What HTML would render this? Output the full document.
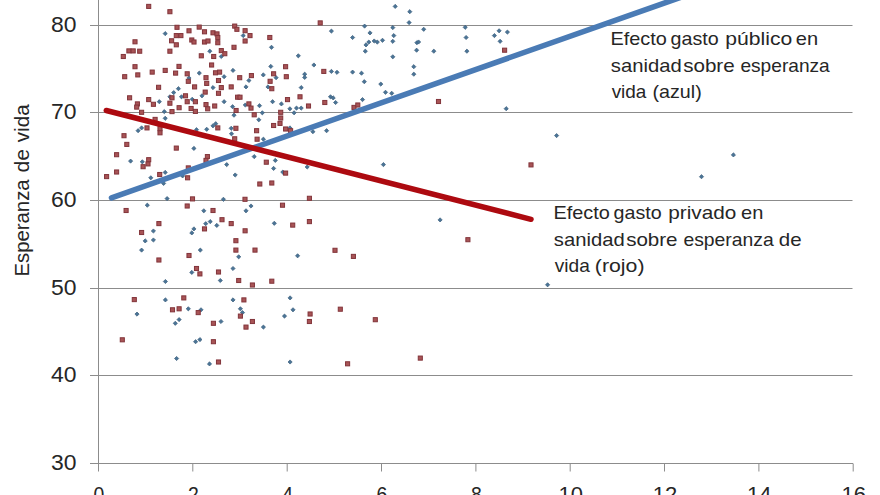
<!DOCTYPE html>
<html><head><meta charset="utf-8">
<style>
html,body{margin:0;padding:0;background:#fff;width:880px;height:495px;overflow:hidden}
svg{display:block}
text{font-family:"Liberation Sans",sans-serif}
</style></head><body>
<svg width="880" height="495" viewBox="0 0 880 495">
<rect width="880" height="495" fill="#fff"/>
<g stroke="#8c8c8c" stroke-width="1"><line x1="90" y1="25.5" x2="852.5" y2="25.5"/><line x1="90" y1="112.5" x2="852.5" y2="112.5"/><line x1="90" y1="200.5" x2="852.5" y2="200.5"/><line x1="90" y1="288.5" x2="852.5" y2="288.5"/><line x1="90" y1="375.5" x2="852.5" y2="375.5"/><line x1="90" y1="463.5" x2="853" y2="463.5"/><line x1="98.5" y1="0" x2="98.5" y2="471.5"/><line x1="192.8" y1="463.5" x2="192.8" y2="471.5"/><line x1="287.2" y1="463.5" x2="287.2" y2="471.5"/><line x1="381.5" y1="463.5" x2="381.5" y2="471.5"/><line x1="475.9" y1="463.5" x2="475.9" y2="471.5"/><line x1="570.2" y1="463.5" x2="570.2" y2="471.5"/><line x1="664.5" y1="463.5" x2="664.5" y2="471.5"/><line x1="758.9" y1="463.5" x2="758.9" y2="471.5"/><line x1="853.2" y1="463.5" x2="853.2" y2="471.5"/></g>
<g font-size="22.8" fill="#262626"><text x="76.5" y="32.3" text-anchor="end" textLength="25.5" lengthAdjust="spacingAndGlyphs">80</text><text x="76.5" y="119.3" text-anchor="end" textLength="25.5" lengthAdjust="spacingAndGlyphs">70</text><text x="76.5" y="207.3" text-anchor="end" textLength="25.5" lengthAdjust="spacingAndGlyphs">60</text><text x="76.5" y="295.3" text-anchor="end" textLength="25.5" lengthAdjust="spacingAndGlyphs">50</text><text x="76.5" y="382.3" text-anchor="end" textLength="25.5" lengthAdjust="spacingAndGlyphs">40</text><text x="76.5" y="470.3" text-anchor="end" textLength="25.5" lengthAdjust="spacingAndGlyphs">30</text><text x="93.6" y="501.5" textLength="10.8" lengthAdjust="spacingAndGlyphs">0</text><text x="187.9" y="501.5" textLength="10.8" lengthAdjust="spacingAndGlyphs">2</text><text x="282.3" y="501.5" textLength="10.8" lengthAdjust="spacingAndGlyphs">4</text><text x="376.6" y="501.5" textLength="10.8" lengthAdjust="spacingAndGlyphs">6</text><text x="471.0" y="501.5" textLength="10.8" lengthAdjust="spacingAndGlyphs">8</text><text x="558.5" y="501.5" textLength="24.5" lengthAdjust="spacingAndGlyphs">10</text><text x="652.8" y="501.5" textLength="24.5" lengthAdjust="spacingAndGlyphs">12</text><text x="747.1" y="501.5" textLength="24.5" lengthAdjust="spacingAndGlyphs">14</text><text x="841.5" y="501.5" textLength="24.5" lengthAdjust="spacingAndGlyphs">16</text></g>
<g font-size="20" fill="#262626"><text transform="translate(29.2,276.42) rotate(-90)" textLength="96.99" lengthAdjust="spacingAndGlyphs">Esperanza</text><text transform="translate(29.2,172.5) rotate(-90)" textLength="23.59" lengthAdjust="spacingAndGlyphs">de</text><text transform="translate(29.2,142.26) rotate(-90)" textLength="37.91" lengthAdjust="spacingAndGlyphs">vida</text></g>
<g fill="#4a7496" stroke="#3c5e7c" stroke-width="0.7"><path d="M165.2 31.50L167.30 33.6L165.2 35.70L163.10 33.6Z"/><path d="M209.8 49.10L211.90 51.2L209.8 53.30L207.70 51.2Z"/><path d="M243.2 33.50L245.30 35.6L243.2 37.70L241.10 35.6Z"/><path d="M271.5 45.20L273.60 47.3L271.5 49.40L269.40 47.3Z"/><path d="M221.3 54.40L223.40 56.5L221.3 58.60L219.20 56.5Z"/><path d="M298.3 53.70L300.40 55.8L298.3 57.90L296.20 55.8Z"/><path d="M270.8 64.30L272.90 66.4L270.8 68.50L268.70 66.4Z"/><path d="M313.9 62.90L316.00 65.0L313.9 67.10L311.80 65.0Z"/><path d="M395.2 4.30L397.30 6.4L395.2 8.50L393.10 6.4Z"/><path d="M409.8 9.60L411.90 11.7L409.8 13.80L407.70 11.7Z"/><path d="M409.1 20.50L411.20 22.6L409.1 24.70L407.00 22.6Z"/><path d="M364.6 24.00L366.70 26.1L364.6 28.20L362.50 26.1Z"/><path d="M392.8 25.50L394.90 27.6L392.8 29.70L390.70 27.6Z"/><path d="M423.7 27.20L425.80 29.3L423.7 31.40L421.60 29.3Z"/><path d="M331.4 29.00L333.50 31.1L331.4 33.20L329.30 31.1Z"/><path d="M370.0 30.80L372.10 32.9L370.0 35.00L367.90 32.9Z"/><path d="M352.6 35.40L354.70 37.5L352.6 39.60L350.50 37.5Z"/><path d="M393.8 33.50L395.90 35.6L393.8 37.70L391.70 35.6Z"/><path d="M368.8 40.00L370.90 42.1L368.8 44.20L366.70 42.1Z"/><path d="M366.0 42.80L368.10 44.9L366.0 47.00L363.90 44.9Z"/><path d="M374.2 38.90L376.30 41.0L374.2 43.10L372.10 41.0Z"/><path d="M377.3 40.00L379.40 42.1L377.3 44.20L375.20 42.1Z"/><path d="M382.5 38.20L384.60 40.3L382.5 42.40L380.40 40.3Z"/><path d="M392.8 39.20L394.90 41.3L392.8 43.40L390.70 41.3Z"/><path d="M416.9 40.60L419.00 42.7L416.9 44.80L414.80 42.7Z"/><path d="M418.6 39.90L420.70 42.0L418.6 44.10L416.50 42.0Z"/><path d="M365.3 49.10L367.40 51.2L365.3 53.30L363.20 51.2Z"/><path d="M416.6 48.10L418.70 50.2L416.6 52.30L414.50 50.2Z"/><path d="M433.8 49.10L435.90 51.2L433.8 53.30L431.70 51.2Z"/><path d="M392.8 54.70L394.90 56.8L392.8 58.90L390.70 56.8Z"/><path d="M413.8 64.60L415.90 66.7L413.8 68.80L411.70 66.7Z"/><path d="M465.2 25.20L467.30 27.3L465.2 29.40L463.10 27.3Z"/><path d="M466.1 35.40L468.20 37.5L466.1 39.60L464.00 37.5Z"/><path d="M466.9 49.10L469.00 51.2L466.9 53.30L464.80 51.2Z"/><path d="M494.4 33.50L496.50 35.6L494.4 37.70L492.30 35.6Z"/><path d="M499.1 28.70L501.20 30.8L499.1 32.90L497.00 30.8Z"/><path d="M507.4 30.00L509.50 32.1L507.4 34.20L505.30 32.1Z"/><path d="M500.1 39.20L502.20 41.3L500.1 43.40L498.00 41.3Z"/><path d="M189.0 75.90L191.10 78.0L189.0 80.10L186.90 78.0Z"/><path d="M199.3 71.00L201.40 73.1L199.3 75.20L197.20 73.1Z"/><path d="M178.4 86.60L180.50 88.7L178.4 90.80L176.30 88.7Z"/><path d="M173.7 90.50L175.80 92.6L173.7 94.70L171.60 92.6Z"/><path d="M181.5 94.70L183.60 96.8L181.5 98.90L179.40 96.8Z"/><path d="M169.9 94.70L172.00 96.8L169.9 98.90L167.80 96.8Z"/><path d="M159.3 99.60L161.40 101.7L159.3 103.80L157.20 101.7Z"/><path d="M192.2 97.20L194.30 99.3L192.2 101.40L190.10 99.3Z"/><path d="M202.0 93.70L204.10 95.8L202.0 97.90L199.90 95.8Z"/><path d="M213.0 85.50L215.10 87.6L213.0 89.70L210.90 87.6Z"/><path d="M164.3 109.50L166.40 111.6L164.3 113.70L162.20 111.6Z"/><path d="M165.2 116.20L167.30 118.3L165.2 120.40L163.10 118.3Z"/><path d="M141.6 125.80L143.70 127.9L141.6 130.00L139.50 127.9Z"/><path d="M138.1 128.60L140.20 130.7L138.1 132.80L136.00 130.7Z"/><path d="M196.5 127.60L198.60 129.7L196.5 131.80L194.40 129.7Z"/><path d="M206.7 127.20L208.80 129.3L206.7 131.40L204.60 129.3Z"/><path d="M213.0 123.70L215.10 125.8L213.0 127.90L210.90 125.8Z"/><path d="M233.0 68.30L235.10 70.4L233.0 72.50L230.90 70.4Z"/><path d="M224.1 74.60L226.20 76.7L224.1 78.80L222.00 76.7Z"/><path d="M248.9 78.40L251.00 80.5L248.9 82.60L246.80 80.5Z"/><path d="M263.3 72.80L265.40 74.9L263.3 77.00L261.20 74.9Z"/><path d="M276.1 75.60L278.20 77.7L276.1 79.80L274.00 77.7Z"/><path d="M304.7 72.10L306.80 74.2L304.7 76.30L302.60 74.2Z"/><path d="M304.7 75.30L306.80 77.4L304.7 79.50L302.60 77.4Z"/><path d="M246.0 84.80L248.10 86.9L246.0 89.00L243.90 86.9Z"/><path d="M268.0 84.80L270.10 86.9L268.0 89.00L265.90 86.9Z"/><path d="M301.2 85.50L303.30 87.6L301.2 89.70L299.10 87.6Z"/><path d="M224.1 99.60L226.20 101.7L224.1 103.80L222.00 101.7Z"/><path d="M232.6 104.60L234.70 106.7L232.6 108.80L230.50 106.7Z"/><path d="M245.3 102.90L247.40 105.0L245.3 107.10L243.20 105.0Z"/><path d="M259.5 103.60L261.60 105.7L259.5 107.80L257.40 105.7Z"/><path d="M272.6 99.60L274.70 101.7L272.6 103.80L270.50 101.7Z"/><path d="M281.4 101.80L283.50 103.9L281.4 106.00L279.30 103.9Z"/><path d="M289.9 106.70L292.00 108.8L289.9 110.90L287.80 108.8Z"/><path d="M296.5 106.00L298.60 108.1L296.5 110.20L294.40 108.1Z"/><path d="M301.2 106.00L303.30 108.1L301.2 110.20L299.10 108.1Z"/><path d="M294.1 110.70L296.20 112.8L294.1 114.90L292.00 112.8Z"/><path d="M262.3 110.70L264.40 112.8L262.3 114.90L260.20 112.8Z"/><path d="M234.0 113.10L236.10 115.2L234.0 117.30L231.90 115.2Z"/><path d="M258.8 117.70L260.90 119.8L258.8 121.90L256.70 119.8Z"/><path d="M215.7 121.60L217.80 123.7L215.7 125.80L213.60 123.7Z"/><path d="M231.2 126.20L233.30 128.3L231.2 130.40L229.10 128.3Z"/><path d="M231.5 131.70L233.60 133.8L231.5 135.90L229.40 133.8Z"/><path d="M289.9 125.80L292.00 127.9L289.9 130.00L287.80 127.9Z"/><path d="M312.9 129.60L315.00 131.7L312.9 133.80L310.80 131.7Z"/><path d="M326.6 128.60L328.70 130.7L326.6 132.80L324.50 130.7Z"/><path d="M331.4 69.30L333.50 71.4L331.4 73.50L329.30 71.4Z"/><path d="M337.0 70.20L339.10 72.3L337.0 74.40L334.90 72.3Z"/><path d="M352.6 70.00L354.70 72.1L352.6 74.20L350.50 72.1Z"/><path d="M361.5 71.10L363.60 73.2L361.5 75.30L359.40 73.2Z"/><path d="M364.3 79.60L366.40 81.7L364.3 83.80L362.20 81.7Z"/><path d="M413.8 72.10L415.90 74.2L413.8 76.30L411.70 74.2Z"/><path d="M380.8 82.00L382.90 84.1L380.8 86.20L378.70 84.1Z"/><path d="M385.5 90.20L387.60 92.3L385.5 94.40L383.40 92.3Z"/><path d="M391.7 91.20L393.80 93.3L391.7 95.40L389.60 93.3Z"/><path d="M330.5 94.70L332.60 96.8L330.5 98.90L328.40 96.8Z"/><path d="M333.2 95.80L335.30 97.9L333.2 100.00L331.10 97.9Z"/><path d="M335.6 100.40L337.70 102.5L335.6 104.60L333.50 102.5Z"/><path d="M362.5 97.50L364.60 99.6L362.5 101.70L360.40 99.6Z"/><path d="M506.2 106.60L508.30 108.7L506.2 110.80L504.10 108.7Z"/><path d="M556.6 133.50L558.70 135.6L556.6 137.70L554.50 135.6Z"/><path d="M193.9 146.30L196.00 148.4L193.9 150.50L191.80 148.4Z"/><path d="M130.6 159.00L132.70 161.1L130.6 163.20L128.50 161.1Z"/><path d="M142.3 159.70L144.40 161.8L142.3 163.90L140.20 161.8Z"/><path d="M150.8 175.70L152.90 177.8L150.8 179.90L148.70 177.8Z"/><path d="M165.2 170.30L167.30 172.4L165.2 174.50L163.10 172.4Z"/><path d="M163.6 181.30L165.70 183.4L163.6 185.50L161.50 183.4Z"/><path d="M182.6 173.80L184.70 175.9L182.6 178.00L180.50 175.9Z"/><path d="M167.1 196.50L169.20 198.6L167.1 200.70L165.00 198.6Z"/><path d="M263.4 137.10L265.50 139.2L263.4 141.30L261.30 139.2Z"/><path d="M254.2 154.50L256.30 156.6L254.2 158.70L252.10 156.6Z"/><path d="M275.3 158.30L277.40 160.4L275.3 162.50L273.20 160.4Z"/><path d="M273.6 166.30L275.70 168.4L273.6 170.50L271.50 168.4Z"/><path d="M226.7 162.50L228.80 164.6L226.7 166.70L224.60 164.6Z"/><path d="M235.2 172.90L237.30 175.0L235.2 177.10L233.10 175.0Z"/><path d="M282.8 170.00L284.90 172.1L282.8 174.20L280.70 172.1Z"/><path d="M307.2 164.90L309.30 167.0L307.2 169.10L305.10 167.0Z"/><path d="M223.4 197.20L225.50 199.3L223.4 201.40L221.30 199.3Z"/><path d="M383.4 162.50L385.50 164.6L383.4 166.70L381.30 164.6Z"/><path d="M733.4 152.80L735.50 154.9L733.4 157.00L731.30 154.9Z"/><path d="M701.5 174.60L703.60 176.7L701.5 178.80L699.40 176.7Z"/><path d="M147.3 203.10L149.40 205.2L147.3 207.30L145.20 205.2Z"/><path d="M203.8 208.70L205.90 210.8L203.8 212.90L201.70 210.8Z"/><path d="M205.7 221.60L207.80 223.7L205.7 225.80L203.60 223.7Z"/><path d="M210.2 219.50L212.30 221.6L210.2 223.70L208.10 221.6Z"/><path d="M193.9 226.80L196.00 228.9L193.9 231.00L191.80 228.9Z"/><path d="M191.8 230.80L193.90 232.9L191.8 235.00L189.70 232.9Z"/><path d="M153.4 228.90L155.50 231.0L153.4 233.10L151.30 231.0Z"/><path d="M145.2 238.80L147.30 240.9L145.2 243.00L143.10 240.9Z"/><path d="M153.4 237.90L155.50 240.0L153.4 242.10L151.30 240.0Z"/><path d="M141.6 248.00L143.70 250.1L141.6 252.20L139.50 250.1Z"/><path d="M200.3 248.00L202.40 250.1L200.3 252.20L198.20 250.1Z"/><path d="M251.0 203.90L253.10 206.0L251.0 208.10L248.90 206.0Z"/><path d="M246.0 208.70L248.10 210.8L246.0 212.90L243.90 210.8Z"/><path d="M216.8 223.30L218.90 225.4L216.8 227.50L214.70 225.4Z"/><path d="M274.3 221.20L276.40 223.3L274.3 225.40L272.20 223.3Z"/><path d="M238.7 254.70L240.80 256.8L238.7 258.90L236.60 256.8Z"/><path d="M297.6 253.70L299.70 255.8L297.6 257.90L295.50 255.8Z"/><path d="M440.1 217.80L442.20 219.9L440.1 222.00L438.00 219.9Z"/><path d="M191.8 270.30L193.90 272.4L191.8 274.50L189.70 272.4Z"/><path d="M165.4 279.40L167.50 281.5L165.4 283.60L163.30 281.5Z"/><path d="M165.4 297.80L167.50 299.9L165.4 302.00L163.30 299.9Z"/><path d="M188.3 306.70L190.40 308.8L188.3 310.90L186.20 308.8Z"/><path d="M201.0 307.70L203.10 309.8L201.0 311.90L198.90 309.8Z"/><path d="M137.0 312.00L139.10 314.1L137.0 316.20L134.90 314.1Z"/><path d="M179.1 317.50L181.20 319.6L179.1 321.70L177.00 319.6Z"/><path d="M175.3 321.20L177.40 323.3L175.3 325.40L173.20 323.3Z"/><path d="M233.0 266.40L235.10 268.5L233.0 270.60L230.90 268.5Z"/><path d="M220.3 278.40L222.40 280.5L220.3 282.60L218.20 280.5Z"/><path d="M233.0 297.80L235.10 299.9L233.0 302.00L230.90 299.9Z"/><path d="M240.4 306.70L242.50 308.8L240.4 310.90L238.30 308.8Z"/><path d="M242.5 310.50L244.60 312.6L242.5 314.70L240.40 312.6Z"/><path d="M290.1 295.80L292.20 297.9L290.1 300.00L288.00 297.9Z"/><path d="M293.0 307.70L295.10 309.8L293.0 311.90L290.90 309.8Z"/><path d="M284.5 314.00L286.60 316.1L284.5 318.20L282.40 316.1Z"/><path d="M221.0 319.40L223.10 321.5L221.0 323.60L218.90 321.5Z"/><path d="M263.4 325.00L265.50 327.1L263.4 329.20L261.30 327.1Z"/><path d="M195.6 339.60L197.70 341.7L195.6 343.80L193.50 341.7Z"/><path d="M199.9 337.50L202.00 339.6L199.9 341.70L197.80 339.6Z"/><path d="M176.6 356.40L178.70 358.5L176.6 360.60L174.50 358.5Z"/><path d="M209.5 361.80L211.60 363.9L209.5 366.00L207.40 363.9Z"/><path d="M290.1 359.90L292.20 362.0L290.1 364.10L288.00 362.0Z"/><path d="M547.6 282.70L549.70 284.8L547.6 286.90L545.50 284.8Z"/></g>
<g fill="#a85456" stroke="#82343a" stroke-width="1"><rect x="146.65" y="4.35" width="4.1" height="4.1"/><rect x="167.85" y="9.65" width="4.1" height="4.1"/><rect x="174.95" y="25.25" width="4.1" height="4.1"/><rect x="197.15" y="25.05" width="4.1" height="4.1"/><rect x="186.95" y="28.75" width="4.1" height="4.1"/><rect x="202.45" y="29.75" width="4.1" height="4.1"/><rect x="210.95" y="30.75" width="4.1" height="4.1"/><rect x="174.25" y="33.55" width="4.1" height="4.1"/><rect x="178.85" y="33.55" width="4.1" height="4.1"/><rect x="132.95" y="39.75" width="4.1" height="4.1"/><rect x="169.55" y="38.75" width="4.1" height="4.1"/><rect x="174.25" y="42.75" width="4.1" height="4.1"/><rect x="189.75" y="37.95" width="4.1" height="4.1"/><rect x="191.95" y="39.95" width="4.1" height="4.1"/><rect x="202.45" y="39.95" width="4.1" height="4.1"/><rect x="205.95" y="38.95" width="4.1" height="4.1"/><rect x="126.85" y="48.85" width="4.1" height="4.1"/><rect x="131.15" y="48.85" width="4.1" height="4.1"/><rect x="137.65" y="49.15" width="4.1" height="4.1"/><rect x="121.25" y="54.45" width="4.1" height="4.1"/><rect x="167.85" y="49.15" width="4.1" height="4.1"/><rect x="199.25" y="53.75" width="4.1" height="4.1"/><rect x="211.65" y="54.45" width="4.1" height="4.1"/><rect x="132.95" y="64.65" width="4.1" height="4.1"/><rect x="176.95" y="64.35" width="4.1" height="4.1"/><rect x="209.55" y="62.95" width="4.1" height="4.1"/><rect x="318.15" y="20.85" width="4.1" height="4.1"/><rect x="232.65" y="24.05" width="4.1" height="4.1"/><rect x="234.85" y="27.25" width="4.1" height="4.1"/><rect x="243.05" y="28.65" width="4.1" height="4.1"/><rect x="247.95" y="33.55" width="4.1" height="4.1"/><rect x="243.05" y="38.95" width="4.1" height="4.1"/><rect x="214.95" y="31.85" width="4.1" height="4.1"/><rect x="215.75" y="35.45" width="4.1" height="4.1"/><rect x="215.75" y="40.65" width="4.1" height="4.1"/><rect x="267.75" y="35.45" width="4.1" height="4.1"/><rect x="231.95" y="45.25" width="4.1" height="4.1"/><rect x="219.25" y="48.55" width="4.1" height="4.1"/><rect x="222.75" y="51.65" width="4.1" height="4.1"/><rect x="283.55" y="64.65" width="4.1" height="4.1"/><rect x="502.55" y="48.15" width="4.1" height="4.1"/><rect x="122.65" y="74.65" width="4.1" height="4.1"/><rect x="135.75" y="72.85" width="4.1" height="4.1"/><rect x="150.15" y="70.05" width="4.1" height="4.1"/><rect x="163.15" y="68.35" width="4.1" height="4.1"/><rect x="173.55" y="71.05" width="4.1" height="4.1"/><rect x="185.15" y="71.75" width="4.1" height="4.1"/><rect x="186.25" y="79.25" width="4.1" height="4.1"/><rect x="203.95" y="75.65" width="4.1" height="4.1"/><rect x="204.65" y="81.35" width="4.1" height="4.1"/><rect x="213.45" y="70.75" width="4.1" height="4.1"/><rect x="156.55" y="85.25" width="4.1" height="4.1"/><rect x="192.55" y="84.85" width="4.1" height="4.1"/><rect x="203.15" y="90.05" width="4.1" height="4.1"/><rect x="127.55" y="95.75" width="4.1" height="4.1"/><rect x="146.65" y="97.55" width="4.1" height="4.1"/><rect x="151.35" y="102.25" width="4.1" height="4.1"/><rect x="169.95" y="95.75" width="4.1" height="4.1"/><rect x="167.85" y="101.15" width="4.1" height="4.1"/><rect x="183.45" y="93.75" width="4.1" height="4.1"/><rect x="185.15" y="99.65" width="4.1" height="4.1"/><rect x="193.35" y="99.65" width="4.1" height="4.1"/><rect x="135.35" y="101.85" width="4.1" height="4.1"/><rect x="134.65" y="105.05" width="4.1" height="4.1"/><rect x="177.05" y="105.65" width="4.1" height="4.1"/><rect x="189.05" y="106.45" width="4.1" height="4.1"/><rect x="193.35" y="109.35" width="4.1" height="4.1"/><rect x="169.95" y="109.55" width="4.1" height="4.1"/><rect x="139.55" y="110.25" width="4.1" height="4.1"/><rect x="203.95" y="102.55" width="4.1" height="4.1"/><rect x="205.65" y="106.75" width="4.1" height="4.1"/><rect x="212.65" y="103.95" width="4.1" height="4.1"/><rect x="153.05" y="117.35" width="4.1" height="4.1"/><rect x="144.95" y="125.85" width="4.1" height="4.1"/><rect x="157.95" y="126.55" width="4.1" height="4.1"/><rect x="157.95" y="130.75" width="4.1" height="4.1"/><rect x="217.55" y="70.05" width="4.1" height="4.1"/><rect x="216.45" y="78.45" width="4.1" height="4.1"/><rect x="237.65" y="75.65" width="4.1" height="4.1"/><rect x="249.35" y="73.55" width="4.1" height="4.1"/><rect x="271.55" y="71.75" width="4.1" height="4.1"/><rect x="284.25" y="74.65" width="4.1" height="4.1"/><rect x="268.05" y="79.25" width="4.1" height="4.1"/><rect x="269.75" y="86.65" width="4.1" height="4.1"/><rect x="321.75" y="69.35" width="4.1" height="4.1"/><rect x="219.25" y="85.55" width="4.1" height="4.1"/><rect x="229.15" y="84.85" width="4.1" height="4.1"/><rect x="216.45" y="91.25" width="4.1" height="4.1"/><rect x="235.55" y="95.15" width="4.1" height="4.1"/><rect x="237.95" y="95.15" width="4.1" height="4.1"/><rect x="234.05" y="108.45" width="4.1" height="4.1"/><rect x="246.85" y="101.85" width="4.1" height="4.1"/><rect x="248.95" y="106.05" width="4.1" height="4.1"/><rect x="252.15" y="112.75" width="4.1" height="4.1"/><rect x="285.45" y="97.55" width="4.1" height="4.1"/><rect x="297.95" y="94.75" width="4.1" height="4.1"/><rect x="306.45" y="103.95" width="4.1" height="4.1"/><rect x="322.75" y="100.45" width="4.1" height="4.1"/><rect x="278.65" y="110.25" width="4.1" height="4.1"/><rect x="278.65" y="115.95" width="4.1" height="4.1"/><rect x="277.95" y="121.35" width="4.1" height="4.1"/><rect x="271.55" y="123.45" width="4.1" height="4.1"/><rect x="283.55" y="126.95" width="4.1" height="4.1"/><rect x="288.55" y="128.65" width="4.1" height="4.1"/><rect x="233.85" y="126.25" width="4.1" height="4.1"/><rect x="215.75" y="125.85" width="4.1" height="4.1"/><rect x="254.55" y="128.65" width="4.1" height="4.1"/><rect x="351.95" y="105.35" width="4.1" height="4.1"/><rect x="355.75" y="102.95" width="4.1" height="4.1"/><rect x="436.45" y="99.45" width="4.1" height="4.1"/><rect x="121.95" y="133.65" width="4.1" height="4.1"/><rect x="124.75" y="142.35" width="4.1" height="4.1"/><rect x="114.55" y="152.65" width="4.1" height="4.1"/><rect x="174.25" y="146.05" width="4.1" height="4.1"/><rect x="205.35" y="154.55" width="4.1" height="4.1"/><rect x="203.95" y="158.35" width="4.1" height="4.1"/><rect x="146.65" y="157.65" width="4.1" height="4.1"/><rect x="145.95" y="161.85" width="4.1" height="4.1"/><rect x="141.05" y="164.65" width="4.1" height="4.1"/><rect x="114.55" y="169.95" width="4.1" height="4.1"/><rect x="104.55" y="174.55" width="4.1" height="4.1"/><rect x="157.65" y="172.45" width="4.1" height="4.1"/><rect x="185.55" y="175.75" width="4.1" height="4.1"/><rect x="186.25" y="165.85" width="4.1" height="4.1"/><rect x="190.45" y="196.85" width="4.1" height="4.1"/><rect x="232.65" y="136.75" width="4.1" height="4.1"/><rect x="255.05" y="137.15" width="4.1" height="4.1"/><rect x="264.25" y="160.15" width="4.1" height="4.1"/><rect x="283.55" y="171.05" width="4.1" height="4.1"/><rect x="257.75" y="181.95" width="4.1" height="4.1"/><rect x="269.75" y="180.95" width="4.1" height="4.1"/><rect x="307.35" y="196.25" width="4.1" height="4.1"/><rect x="242.95" y="197.25" width="4.1" height="4.1"/><rect x="528.95" y="162.85" width="4.1" height="4.1"/><rect x="185.15" y="203.95" width="4.1" height="4.1"/><rect x="124.05" y="208.45" width="4.1" height="4.1"/><rect x="210.95" y="208.45" width="4.1" height="4.1"/><rect x="156.85" y="221.55" width="4.1" height="4.1"/><rect x="139.55" y="230.45" width="4.1" height="4.1"/><rect x="202.45" y="226.85" width="4.1" height="4.1"/><rect x="186.95" y="253.45" width="4.1" height="4.1"/><rect x="156.85" y="257.95" width="4.1" height="4.1"/><rect x="280.45" y="203.15" width="4.1" height="4.1"/><rect x="219.95" y="217.65" width="4.1" height="4.1"/><rect x="229.15" y="221.55" width="4.1" height="4.1"/><rect x="243.05" y="228.75" width="4.1" height="4.1"/><rect x="290.65" y="223.05" width="4.1" height="4.1"/><rect x="307.35" y="219.55" width="4.1" height="4.1"/><rect x="233.85" y="238.65" width="4.1" height="4.1"/><rect x="233.85" y="248.05" width="4.1" height="4.1"/><rect x="252.95" y="248.05" width="4.1" height="4.1"/><rect x="332.95" y="248.25" width="4.1" height="4.1"/><rect x="351.35" y="254.35" width="4.1" height="4.1"/><rect x="465.85" y="237.65" width="4.1" height="4.1"/><rect x="194.45" y="266.45" width="4.1" height="4.1"/><rect x="197.85" y="271.85" width="4.1" height="4.1"/><rect x="132.25" y="297.55" width="4.1" height="4.1"/><rect x="181.75" y="295.85" width="4.1" height="4.1"/><rect x="170.45" y="307.75" width="4.1" height="4.1"/><rect x="177.05" y="306.75" width="4.1" height="4.1"/><rect x="196.15" y="310.55" width="4.1" height="4.1"/><rect x="211.35" y="321.25" width="4.1" height="4.1"/><rect x="216.45" y="269.95" width="4.1" height="4.1"/><rect x="236.65" y="278.45" width="4.1" height="4.1"/><rect x="250.35" y="282.95" width="4.1" height="4.1"/><rect x="269.75" y="279.15" width="4.1" height="4.1"/><rect x="241.85" y="297.85" width="4.1" height="4.1"/><rect x="238.35" y="314.05" width="4.1" height="4.1"/><rect x="250.35" y="319.45" width="4.1" height="4.1"/><rect x="243.95" y="325.05" width="4.1" height="4.1"/><rect x="308.05" y="311.95" width="4.1" height="4.1"/><rect x="307.35" y="319.45" width="4.1" height="4.1"/><rect x="338.25" y="307.15" width="4.1" height="4.1"/><rect x="373.25" y="317.65" width="4.1" height="4.1"/><rect x="345.55" y="361.75" width="4.1" height="4.1"/><rect x="418.25" y="356.05" width="4.1" height="4.1"/><rect x="120.25" y="337.75" width="4.1" height="4.1"/><rect x="211.35" y="339.65" width="4.1" height="4.1"/><rect x="216.45" y="359.95" width="4.1" height="4.1"/></g>
<line x1="111.5" y1="197.8" x2="704.3" y2="-11" stroke="#4a7bb5" stroke-width="5.6" stroke-linecap="round"/>
<line x1="106.3" y1="110.5" x2="531" y2="219.3" stroke="#ad0a10" stroke-width="5.5" stroke-linecap="round"/>
<g font-size="18.6" fill="#262626"><text x="610.5" y="44.9" textLength="56.37" lengthAdjust="spacingAndGlyphs">Efecto</text><text x="670.61" y="44.9" textLength="48.09" lengthAdjust="spacingAndGlyphs">gasto</text><text x="725.38" y="44.9" textLength="66.9" lengthAdjust="spacingAndGlyphs">público</text><text x="795.89" y="44.9" textLength="22.29" lengthAdjust="spacingAndGlyphs">en</text><text x="610.86" y="71.6" textLength="70.78" lengthAdjust="spacingAndGlyphs">sanidad</text><text x="683.15" y="71.6" textLength="51.5" lengthAdjust="spacingAndGlyphs">sobre</text><text x="740.43" y="71.6" textLength="89.31" lengthAdjust="spacingAndGlyphs">esperanza</text><text x="611.65" y="97.6" textLength="34.73" lengthAdjust="spacingAndGlyphs">vida</text><text x="652.54" y="97.6" textLength="49.22" lengthAdjust="spacingAndGlyphs">(azul)</text><text x="553.5" y="219.2" textLength="56.37" lengthAdjust="spacingAndGlyphs">Efecto</text><text x="613.61" y="219.2" textLength="48.09" lengthAdjust="spacingAndGlyphs">gasto</text><text x="668.31" y="219.2" textLength="68.01" lengthAdjust="spacingAndGlyphs">privado</text><text x="740.99" y="219.2" textLength="22.29" lengthAdjust="spacingAndGlyphs">en</text><text x="553.86" y="245.8" textLength="70.78" lengthAdjust="spacingAndGlyphs">sanidad</text><text x="626.15" y="245.8" textLength="51.4" lengthAdjust="spacingAndGlyphs">sobre</text><text x="683.42" y="245.8" textLength="90.32" lengthAdjust="spacingAndGlyphs">esperanza</text><text x="778.77" y="245.8" textLength="22.78" lengthAdjust="spacingAndGlyphs">de</text><text x="554.84" y="272.1" textLength="35.03" lengthAdjust="spacingAndGlyphs">vida</text><text x="594.86" y="272.1" textLength="49.65" lengthAdjust="spacingAndGlyphs">(rojo)</text></g>
</svg></body></html>
